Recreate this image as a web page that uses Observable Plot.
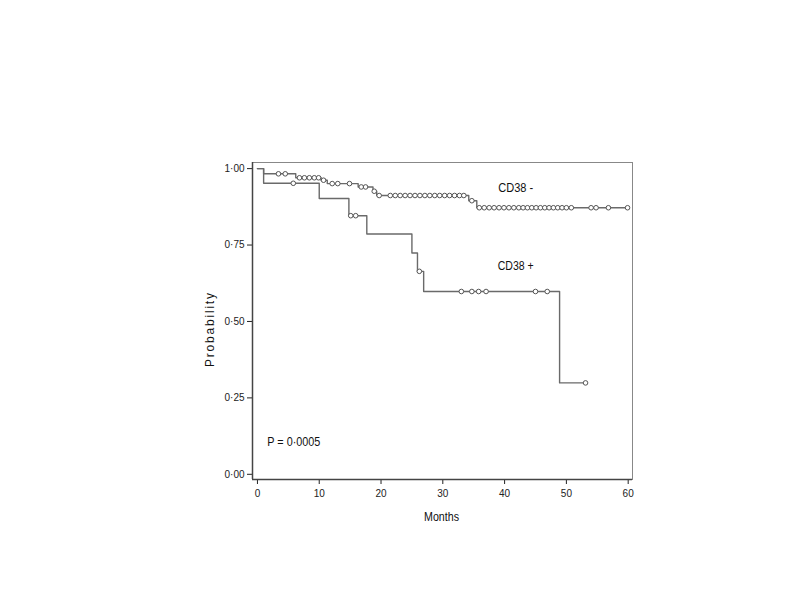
<!DOCTYPE html>
<html><head><meta charset="utf-8">
<script src="https://cdn.jsdelivr.net/npm/d3@7"></script>
<script src="https://cdn.jsdelivr.net/npm/@observablehq/plot@0.6"></script>
<style>
body{margin:0;background:#fff;}
#chart svg{font-family:"Liberation Sans",Arial,sans-serif;}
</style>
</head><body><div id="chart"></div>
<script>
// CD38 - (negative) Kaplan–Meier steps
const negStepTimes = [0, 1, 6.2, 10.3, 11.3, 16.3, 18.7, 19.3, 34.2, 35.5, 60];
const negStepSurv  = [1.00, 0.983, 0.970, 0.962, 0.951, 0.940, 0.926, 0.912, 0.895, 0.872, 0.872];
const negCensorTimes = [3.4, 4.5, 6.8, 7.6, 8.4, 9.2, 9.9, 10.7, 12.1, 13.0, 14.9, 16.8, 17.5, 18.9,
  19.7, 21.5, 22.3, 23.1, 23.9, 24.7, 25.5, 26.3, 27.1, 27.9, 28.7, 29.5, 30.3, 31.1, 31.9, 32.7, 33.4,
  34.7, 35.9, 36.7, 37.5, 38.3, 39.1, 39.9, 40.7, 41.5, 42.3, 43.0, 43.7, 44.4, 45.1, 45.8, 46.5, 47.2,
  47.9, 48.6, 49.3, 50.0, 50.8, 54.0, 54.8, 56.8, 59.9];
// CD38 + (positive)
const posStepTimes = [0, 1, 10, 14.8, 17.7, 25.0, 25.9, 26.9, 48.9, 53.1];
const posStepSurv  = [1.00, 0.952, 0.902, 0.846, 0.786, 0.724, 0.664, 0.598, 0.299, 0.299];
const posCensorTimes = [5.8, 15.1, 15.9, 26.2, 33.0, 34.7, 35.8, 37.0, 45.0, 46.9, 53.1];

const xTicks = [0, 10, 20, 30, 40, 50, 60];
const yTicks = [0, 0.25, 0.5, 0.75, 1];
const xDomain = [-0.8, 60.7];
const yDomain = [-0.017, 1.02];

const labels = [
  {x: 41.8, y: 0.938, text: "CD38 -"},
  {x: 41.8, y: 0.683, text: "CD38 +"}
];
const pLabel = [{x: 1.6, y: 0.105, text: "P = 0·0005"}];
const xTitle = "Months";
const yTitle = "Probability";

function levelAt(times, surv, t) {
  let v = surv[0];
  for (let i = 0; i < times.length; i++) if (times[i] <= t) v = surv[i];
  return v;
}
const negSteps = negStepTimes.map((t, i) => ({t, s: negStepSurv[i]}));
const posSteps = posStepTimes.map((t, i) => ({t, s: posStepSurv[i]}));
const negCens = negCensorTimes.map(t => ({t, s: levelAt(negStepTimes, negStepSurv, t)}));
const posCens = posCensorTimes.map(t => ({t, s: levelAt(posStepTimes, posStepSurv, t)}));

const chart = Plot.plot({
  width: 800, height: 600,
  marginLeft: 252, marginRight: 168, marginTop: 162, marginBottom: 121,
  x: {domain: xDomain, ticks: xTicks, tickSize: 5, tickPadding: 5, label: null},
  y: {domain: yDomain, ticks: yTicks, tickSize: 5, tickPadding: 3, label: null,
      tickFormat: d => d.toFixed(2).replace(".", "·")},
  style: {fontSize: "10px", color: "#222", background: "white"},
  marks: [
    Plot.frame({stroke: "#888", strokeWidth: 1}),
    Plot.ruleX([xDomain[0]], {stroke: "#444", strokeWidth: 1.5}),
    Plot.ruleY([yDomain[0]], {stroke: "#444", strokeWidth: 1.5}),
    Plot.line(negSteps, {x: "t", y: "s", curve: "step-after", stroke: "#6a6a6a", strokeWidth: 1.4}),
    Plot.line(posSteps, {x: "t", y: "s", curve: "step-after", stroke: "#6a6a6a", strokeWidth: 1.4}),
    Plot.dot(negCens, {x: "t", y: "s", r: 2.3, stroke: "#555", strokeWidth: 1, fill: "white"}),
    Plot.dot(posCens, {x: "t", y: "s", r: 2.3, stroke: "#555", strokeWidth: 1, fill: "white"}),
    Plot.text(labels, {x: "x", y: "y", text: "text", fontSize: 13, fill: "#111"}),
    Plot.text(pLabel, {x: "x", y: "y", text: "text", fontSize: 13, fill: "#111", textAnchor: "start"}),
    Plot.text([xTitle], {frameAnchor: "bottom", dy: 41, dx: -1, fontSize: 13, fill: "#111", textAnchor: "middle"}),
    Plot.text([yTitle], {frameAnchor: "left", dx: -42, dy: 9, rotate: -90, fontSize: 12, fill: "#111", textAnchor: "middle"})
  ]
});
// condense/space text to the reference's typeface widths
const widths = {"CD38 -": [35, "spacingAndGlyphs"], "CD38 +": [36, "spacingAndGlyphs"],
  "P = 0·0005": [53, "spacingAndGlyphs"], "Months": [35, "spacingAndGlyphs"], "Probability": [74, "spacing"]};
d3.select(chart).selectAll("text").each(function() {
  const w = widths[this.textContent];
  if (w) { this.setAttribute("textLength", w[0]); this.setAttribute("lengthAdjust", w[1]); }
});
document.getElementById("chart").appendChild(chart);
</script>
</body></html>
